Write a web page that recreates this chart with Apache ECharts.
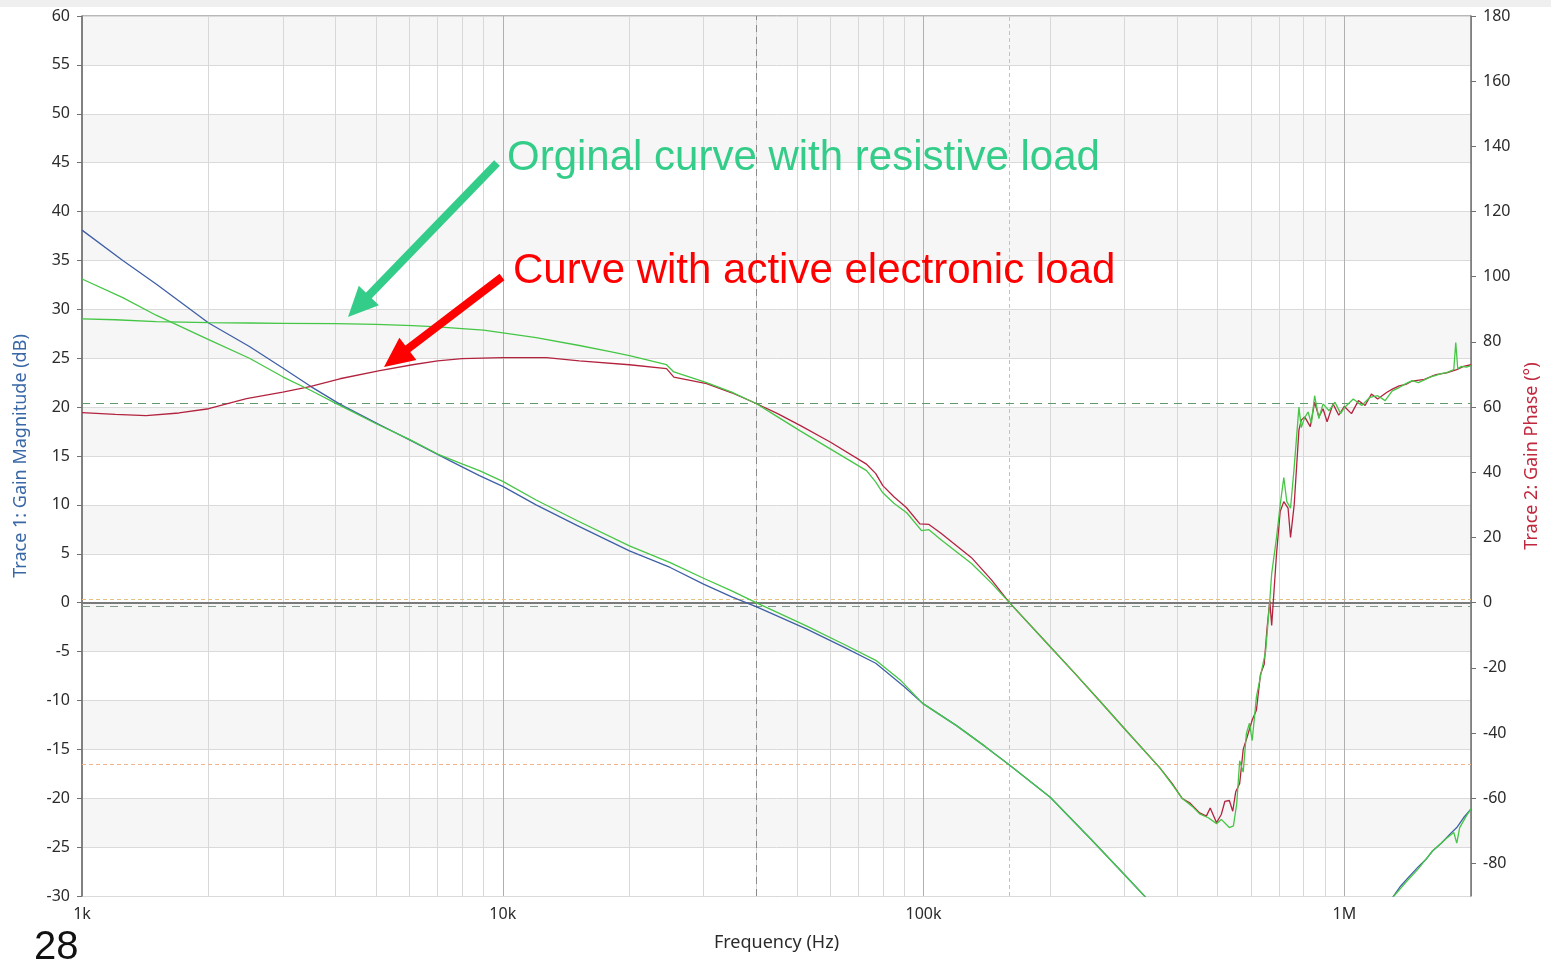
<!DOCTYPE html>
<html><head><meta charset="utf-8">
<script src="https://cdn.jsdelivr.net/npm/echarts@6/dist/echarts.min.js"></script>
<style>html,body{margin:0;padding:0;background:#fff;overflow:hidden}#c{width:1551px;height:963px}</style>
</head><body><div id="c"></div>
<script>
// ---- tick labels ----
const xTickLabels = {3:'1k', 4:'10k', 5:'100k', 6:'1M'};
const phaseTicks = [-80,-60,-40,-20,0,20,40,60,80,100,120,140,160,180];
const minorFreqs = [2e3,3e3,4e3,5e3,6e3,7e3,8e3,9e3,2e4,3e4,4e4,5e4,6e4,7e4,8e4,9e4,2e5,3e5,4e5,5e5,6e5,7e5,8e5,9e5];

// ---- Trace 1 gain (active load, blue) ----
const blueFreq = [1000,1250,1500,2000,2500,3000,3500,4100,5100,6100,7500,8800,10000,12000,15000,20000,25000,30000,35000,40000,52800,65000,77000,90000,99500,120000,140000,160000,200000,250000,300000,340000,400000,500000,600000,700000,800000,1000000,1200000,1300000,1360000,1420000,1500000,1560000,1620000,1700000,1780000,1850000,1920000,2000000];
const blueGain = [38.1,35.0,32.6,28.6,26.2,24.0,22.1,20.3,18.2,16.5,14.5,13.0,11.9,10.0,7.9,5.3,3.6,1.9,0.6,-0.4,-2.7,-4.6,-6.2,-8.6,-10.3,-12.6,-14.7,-16.6,-19.9,-24.2,-27.8,-30.3,-33.5,-37,-40,-40,-39,-35.5,-32,-30.2,-29.0,-28.1,-27.0,-26.3,-25.4,-24.6,-23.7,-23.0,-22.0,-21.1];

// ---- original gain (resistive load, green) ----
const greenGainFreq = [1000,1250,1500,2000,2500,3000,3500,4000,4500,5000,6000,7000,8000,8800,10000,12000,15000,20000,25000,30000,35000,40000,52800,65000,77000,88000,99500,120000,140000,160000,200000,250000,300000,340000,400000,500000,600000,700000,800000,1000000,1200000,1300000,1400000,1500000,1620000,1750000,1820000,1850000,1880000,1950000,2000000];
const greenGain = [33.1,31.2,29.4,26.9,25.0,23.1,21.7,20.4,19.3,18.3,16.7,15.2,14.2,13.5,12.4,10.5,8.4,5.8,4.1,2.5,1.2,0.0,-2.4,-4.3,-5.9,-7.9,-10.3,-12.6,-14.7,-16.6,-19.9,-24.2,-27.8,-30.3,-33.5,-37,-40,-40,-39,-35.5,-32,-30.2,-28.6,-27.2,-25.4,-24.1,-23.5,-24.6,-23.0,-21.8,-21.1];

// ---- Trace 2 phase (active load, red) ----
const redPhaseFreq = [1000,1200,1420,1700,2000,2460,3000,3480,4100,5100,6100,7000,8000,10000,12700,15200,20000,24500,25500,30500,35000,40000,45000,51000,60000,73000,77000,80000,85000,91000,98000,103000,110000,130000,145000,160000,197000,230000,262000,300000,364000,390000,412000,430000,453000,470000,480000,497000,510000,520000,533000,543000,552000,564000,575000,585000,604000,618000,632000,645000,655000,665000,672000,690000,704000,718000,735000,745000,760000,780000,790000,805000,830000,850000,870000,890000,910000,940000,970000,1000000,1040000,1080000,1120000,1160000,1200000,1260000,1300000,1350000,1400000,1450000,1550000,1650000,1750000,1850000,1920000,2000000];
const redPhase = [58.3,57.8,57.4,58.2,59.5,62.6,64.6,66.3,68.7,71.2,73.0,74.2,74.9,75.2,75.2,74.2,73.0,71.8,69.2,67.2,64.4,61.1,58.0,54.3,49.3,42.6,39.6,35.9,32.5,29.2,24.2,24.0,21.3,13.8,7.0,0,-12.6,-22.0,-30.1,-38.6,-50.6,-55.5,-60.1,-61.5,-64.5,-65.5,-63.0,-67.5,-65.0,-61.0,-60.7,-64.0,-58.0,-55.5,-45.0,-42.0,-36.0,-33.0,-22.0,-18.9,-8.0,0.6,-7.0,15.0,28.0,31.0,29.0,20.0,30.0,53.0,56.0,57.0,54.0,61.5,57.0,59.5,55.5,61.0,57.5,60.2,58.0,62.0,60.5,64.0,62.5,64.5,65.5,66.5,67.0,68.0,68.5,70.0,70.5,71.5,72.5,73.0];

// ---- original phase (resistive load, green) ----
const greenPhaseFreq = [1000,1200,1500,2000,2500,3000,4000,5000,6100,7000,8000,9000,10400,12000,15200,18000,20000,24500,25500,30500,35000,40000,45000,50800,60000,73200,77000,80000,85000,91200,98900,103000,110000,130000,145000,160000,197000,230000,262000,300000,364000,390000,412000,435000,453000,475000,497000,510000,533000,545000,555000,564000,575000,585000,595000,604000,618000,638000,650000,665000,672000,690000,704000,718000,730000,745000,760000,780000,790000,805000,820000,835000,850000,870000,890000,920000,950000,980000,1000000,1050000,1100000,1150000,1200000,1250000,1300000,1350000,1400000,1450000,1500000,1600000,1700000,1750000,1820000,1840000,1860000,1900000,1950000,2000000];
const greenPhase = [87.1,86.8,86.2,85.9,85.8,85.7,85.6,85.4,85.0,84.6,84.1,83.6,82.5,81.3,78.9,77.0,75.8,73.0,70.8,67.5,64.6,61.1,57.0,52.8,47.2,40.5,37.0,33.7,30.5,27.6,22.1,22.4,19.3,12.0,6.0,0,-12.6,-22.0,-30.1,-38.6,-50.6,-55.8,-60.1,-62.5,-64.8,-66.0,-67.8,-66.5,-69.0,-68.5,-61.7,-48.5,-52.0,-40.2,-37.0,-42.3,-29.0,-19.9,-15.0,0.6,8.9,20.0,30.0,38.4,31.0,29.0,41.5,60.0,53.7,56.8,58.5,55.0,63.5,56.5,61.0,58.9,61.5,58.0,59.8,62.5,60.5,63.0,63.5,62.0,65.0,66.0,67.2,68.1,67.5,69.2,70.3,70.6,71.5,79.8,71.8,72.5,72.3,72.7];

// ---- cursor markers ----
const cursorFreqs = [40000, 160000];
const cursorGains = [-0.4, 0.3, -16.5];
const cursorPhase = [61.1];

const pairs = (f, v) => f.map((x, i) => [x, v[i]]);

const chart = echarts.init(document.getElementById('c'), null, {renderer: 'canvas'});

function arrow(x1, y1, x2, y2, color, w, hl, hw) {
  const dx = x2 - x1, dy = y2 - y1, len = Math.hypot(dx, dy);
  const ux = dx / len, uy = dy / len;
  const bx = x2 - ux * hl, by = y2 - uy * hl;
  const px = -uy, py = ux;
  return [
    {type: 'line', shape: {x1: x1, y1: y1, x2: bx + ux * 2, y2: by + uy * 2}, style: {stroke: color, lineWidth: w}, z: 50},
    {type: 'polygon', shape: {points: [[x2, y2], [bx + px * hw / 2, by + py * hw / 2], [bx - px * hw / 2, by - py * hw / 2]]}, style: {fill: color}, z: 50}
  ];
}

const labelFont = {fontFamily: 'Noto Sans', fontSize: 16, color: '#2b2b2b'};

const option = {
  animation: false,
  backgroundColor: '#ffffff',
  grid: {left: 82, right: 80, top: 16, bottom: 67, show: true, borderColor: '#707070', borderWidth: 1, backgroundColor: 'transparent'},
  xAxis: {
    type: 'log', logBase: 10, min: 1000, max: 2000000,
    name: 'Frequency (Hz)', nameLocation: 'middle', nameGap: 38,
    nameTextStyle: {fontFamily: 'Noto Sans', fontSize: 18, color: '#2b2b2b'},
    axisLine: {show: true, lineStyle: {color: '#707070', width: 1.5}},
    axisTick: {show: false},
    axisLabel: Object.assign({margin: 10, formatter: function (v) {
      const l = Math.log10(v), r = Math.round(l);
      return Math.abs(l - r) < 1e-6 ? (xTickLabels[r] || '') : '';
    }}, labelFont),
    splitLine: {show: true, lineStyle: {color: '#b0b0b0', width: 1}},
    minorTick: {show: false}, minorSplitLine: {show: false}
  },
  yAxis: [{
    type: 'value', min: -30, max: 60, interval: 5, position: 'left',
    name: 'Trace 1: Gain Magnitude (dB)', nameLocation: 'middle', nameGap: 52, nameRotate: 90,
    nameTextStyle: {fontFamily: 'Noto Sans', fontSize: 18, color: '#3a68a6'},
    axisLine: {show: true, lineStyle: {color: '#707070', width: 1.5}},
    axisTick: {show: true, length: 5, lineStyle: {color: '#707070'}},
    axisLabel: Object.assign({margin: 12}, labelFont),
    splitLine: {show: true, lineStyle: {color: '#dadada', width: 1}},
    splitArea: {show: true, areaStyle: {color: ['#ffffff', '#f6f6f6']}}
  }, {
    type: 'value', min: -90, max: 180, interval: 10, position: 'right',
    name: 'Trace 2: Gain Phase (°)', nameLocation: 'middle', nameGap: 52, nameRotate: 90,
    nameTextStyle: {fontFamily: 'Noto Sans', fontSize: 18, color: '#c0283e'},
    axisLine: {show: true, lineStyle: {color: '#707070', width: 1.5}},
    axisTick: {show: true, length: 5, lineStyle: {color: '#707070'}, customValues: phaseTicks},
    axisLabel: Object.assign({margin: 12, customValues: phaseTicks, formatter: function (v) {
      return (Math.round(v) % 20 === 0) ? String(Math.round(v)) : '';
    }}, labelFont),
    splitLine: {show: false}
  }],
  series: [
    {
      type: 'line', name: 'grid', data: [], xAxisIndex: 0, yAxisIndex: 0, silent: true, z: 1,
      markLine: {silent: true, symbol: 'none', z: 1, label: {show: false}, animation: false,
        lineStyle: {color: '#d8d8d8', type: 'solid', width: 1},
        data: minorFreqs.map(f => ({xAxis: f}))}
    },
    {
      type: 'line', name: 'cursorsGain', data: [], yAxisIndex: 0, silent: true, z: 2,
      markLine: {silent: true, symbol: 'none', z: 2, label: {show: false}, animation: false,
        data: [
          {yAxis: 0, lineStyle: {color: '#7a7a7a', type: 'solid', width: 2}},
          {xAxis: cursorFreqs[0], lineStyle: {color: '#8a8a8a', type: [7, 5], width: 1}},
          {xAxis: cursorFreqs[1], lineStyle: {color: '#f2b48a', type: [4, 3], width: 1}},
          {yAxis: cursorGains[0], lineStyle: {color: '#7f9a88', type: [8, 6], width: 1.2}},
          {yAxis: cursorGains[1], lineStyle: {color: '#e8c080', type: [4, 3], width: 1}},
          {yAxis: cursorGains[2], lineStyle: {color: '#f2b48a', type: [4, 3], width: 1}}
        ]}
    },
    {
      type: 'line', name: 'cursorsPhase', data: [], yAxisIndex: 1, silent: true, z: 2,
      markLine: {silent: true, symbol: 'none', z: 2, label: {show: false}, animation: false,
        data: [{yAxis: cursorPhase[0], lineStyle: {color: '#5f9a6c', type: [8, 6], width: 1.2}}]}
    },
    {type: 'line', name: 'Trace 1 Gain', data: pairs(blueFreq, blueGain), yAxisIndex: 0, showSymbol: false, symbol: 'none', z: 3,
      lineStyle: {color: '#3f5fa6', width: 1.3}, itemStyle: {color: '#3f5fa6'}},
    {type: 'line', name: 'Trace 2 Phase', data: pairs(redPhaseFreq, redPhase), yAxisIndex: 1, showSymbol: false, symbol: 'none', z: 3,
      lineStyle: {color: '#b3233f', width: 1.3}, itemStyle: {color: '#b3233f'}},
    {type: 'line', name: 'Original Gain', data: pairs(greenGainFreq, greenGain), yAxisIndex: 0, showSymbol: false, symbol: 'none', z: 4,
      lineStyle: {color: '#45c645', width: 1.3}, itemStyle: {color: '#45c645'}},
    {type: 'line', name: 'Original Phase', data: pairs(greenPhaseFreq, greenPhase), yAxisIndex: 1, showSymbol: false, symbol: 'none', z: 4,
      lineStyle: {color: '#45c645', width: 1.3}, itemStyle: {color: '#45c645'}}
  ],
  graphic: [
    {type: 'rect', shape: {x: 0, y: 0, width: 1551, height: 7}, style: {fill: '#efefef'}, z: 0, silent: true},
    {type: 'text', x: 507, y: 158, z: 60, style: {text: 'Orginal curve with resistive load', font: '42px "Liberation Sans", Arial', fill: '#33cc88', verticalAlign: 'middle', align: 'left'}},
    {type: 'text', x: 513, y: 271, z: 60, style: {text: 'Curve with active electronic load', font: '42px "Liberation Sans", Arial', fill: '#ff0000', verticalAlign: 'middle', align: 'left'}},
    {type: 'text', x: 34, y: 948, z: 60, style: {text: '28', font: '40px "Liberation Sans", Arial', fill: '#111111', verticalAlign: 'middle', align: 'left'}}
  ].concat(arrow(497, 163, 348, 317, '#33cc88', 8, 30, 28))
   .concat(arrow(502, 277, 384, 367, '#ff0000', 8, 30, 28))
};
chart.setOption(option);
</script>
</body></html>
